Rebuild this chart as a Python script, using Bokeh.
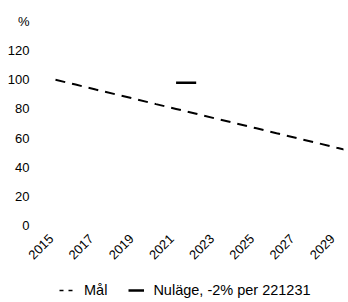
import math
from bokeh.plotting import figure
from bokeh.layouts import column
from bokeh.models import FixedTicker, Legend, LegendItem, Range1d, LinearAxis
from bokeh.embed import file_html
from bokeh.resources import INLINE

years_mal = [2015, 2016, 2017, 2018, 2019, 2020, 2021, 2022, 2023, 2024, 2025, 2026, 2027, 2028, 2029, 2030]
values_mal = [100, 96.7, 93.3, 90, 86.7, 83.3, 80, 76.7, 73.3, 70, 66.7, 63.3, 60, 56.7, 53.3, 50]
years_nu = [2021, 2022]
values_nu = [98, 98]
x_ticks = [2015, 2017, 2019, 2021, 2023, 2025, 2027, 2029]
y_ticks = [0, 20, 40, 60, 80, 100, 120, 140]
y_labels = {140: "%"}
label_mal = "Mål"
label_nu = "Nuläge, -2% per 221231"

FONT = "Liberation Sans"
X0, X1 = 2013.856, 2029.33
LABEL_SHIFT = 0.22  # rotated labels end just left of their year

p = figure(width=348, height=274, output_backend="svg", toolbar_location=None,
           x_range=Range1d(X0, X1), y_range=Range1d(0, 140),
           x_axis_location=None,
           min_border_left=32, min_border_right=5, min_border_top=21, min_border_bottom=49)
p.outline_line_color = None
p.xgrid.grid_line_color = None
p.ygrid.grid_line_color = None

p.line(years_mal, values_mal, line_color="black", line_width=2, line_dash="10 7")
p.line(years_nu, values_nu, line_color="black", line_width=2.5)

p.extra_x_ranges = {"labels": Range1d(X0 + LABEL_SHIFT, X1 + LABEL_SHIFT)}
xaxis = LinearAxis(x_range_name="labels", ticker=FixedTicker(ticks=x_ticks))
p.add_layout(xaxis, "below")

for ax in (xaxis, p.yaxis[0]):
    ax.axis_line_color = None
    ax.major_tick_line_color = None
    ax.minor_tick_line_color = None
    ax.major_tick_out = 0
    ax.major_tick_in = 0
    ax.major_label_text_font = FONT
    ax.major_label_text_color = "black"

p.yaxis[0].ticker = FixedTicker(ticks=y_ticks)
p.yaxis[0].major_label_overrides = y_labels
p.yaxis[0].major_label_text_font_size = "13px"
p.yaxis[0].major_label_standoff = 3

xaxis.major_label_orientation = math.pi / 4
xaxis.major_label_text_font_size = "13px"
xaxis.major_label_standoff = 11

# legend strip below the chart (its sample lines reuse the data, kept outside its view)
lg = figure(width=348, height=28, output_backend="svg", toolbar_location=None,
            x_range=Range1d(0, 1), y_range=Range1d(0, 1),
            x_axis_location=None, y_axis_location=None,
            min_border_left=0, min_border_right=0, min_border_top=0, min_border_bottom=0)
lg.outline_line_color = None
lg.xgrid.grid_line_color = None
lg.ygrid.grid_line_color = None
s_mal = lg.line(years_mal, values_mal, line_color="black", line_width=1.5, line_dash="4 5")
s_nu = lg.line(years_nu, values_nu, line_color="black", line_width=2.5)

legend = Legend(items=[LegendItem(label=label_mal, renderers=[s_mal]),
                       LegendItem(label=label_nu, renderers=[s_nu])],
                orientation="horizontal", location=(27, 4),
                label_text_font=FONT, label_text_font_size="14.5px",
                label_text_color="black", glyph_width=16, glyph_height=14,
                label_standoff=9, spacing=21, padding=0, margin=0,
                border_line_color=None, background_fill_alpha=0)
lg.add_layout(legend)

layout = column(p, lg, spacing=0)
open("out.html", "w").write(file_html(layout, INLINE))
